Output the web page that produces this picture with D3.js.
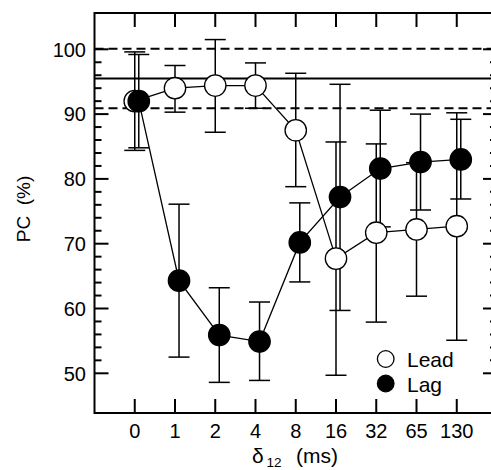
<!DOCTYPE html>
<html>
<head>
<meta charset="utf-8">
<script src="https://cdn.jsdelivr.net/npm/d3@7"></script>
<style>
  html, body { margin: 0; padding: 0; background: #fff; }
  svg { display: block; }
  text { font-family: "Liberation Sans", Arial, Helvetica, sans-serif; fill: #000; }
</style>
</head>
<body>
<svg id="chart" width="491" height="470"></svg>
<script>
// ---- data ----
const categories = ["0", "1", "2", "4", "8", "16", "32", "65", "130"];
const leadValues = [92.0, 94.0, 94.4, 94.4, 87.5, 67.7, 71.7, 72.2, 72.7];
const leadLow    = [84.4, 90.3, 87.2, 90.9, 78.8, 49.7, 57.9, 61.9, 55.1];
const leadHigh   = [99.6, 97.5, 101.5, 97.9, 96.3, 85.7, 85.4, 82.5, 90.2];
const lagValues  = [92.0, 64.3, 55.9, 54.9, 70.2, 77.2, 81.6, 82.6, 83.0];
const lagLow     = [84.8, 52.5, 48.6, 48.9, 64.1, 59.7, 72.6, 75.2, 76.9];
const lagHigh    = [99.2, 76.1, 63.2, 61.0, 76.3, 94.6, 90.6, 90.0, 89.2];
const refMean = 95.5;
const refBand = [90.9, 100.1];
const yTickLabels = [50, 60, 70, 80, 90, 100];
const seriesNames = ["Lead", "Lag"];

// ---- layout ----
const L = 94.5, R = 497, T = 13, B = 413;
const svg = d3.select("#chart");

const x = d3.scaleLinear().domain([-1, categories.length]).range([L, R]);
const y = d3.scaleLinear().domain([50, 100]).range([373.3, 49.3]);
const lagOffset = 0.1;

// frame
svg.append("rect").attr("x", L).attr("y", T).attr("width", R - L).attr("height", B - T)
  .attr("fill", "none").attr("stroke", "#000").attr("stroke-width", 2);

// ticks
const majorLen = 14, minorLen = 7;
const minorTicks = d3.range(50, 100.001, 2).filter(v => !yTickLabels.includes(v));
const gT = svg.append("g").attr("stroke", "#000").attr("stroke-width", 2);
yTickLabels.forEach(v => {
  gT.append("line").attr("x1", L).attr("x2", L + majorLen).attr("y1", y(v)).attr("y2", y(v));
  gT.append("line").attr("x1", R).attr("x2", R - majorLen).attr("y1", y(v)).attr("y2", y(v));
});
minorTicks.forEach(v => {
  gT.append("line").attr("x1", L).attr("x2", L + minorLen).attr("y1", y(v)).attr("y2", y(v));
  gT.append("line").attr("x1", R).attr("x2", R - minorLen).attr("y1", y(v)).attr("y2", y(v));
});
categories.forEach((c, i) => {
  gT.append("line").attr("x1", x(i)).attr("x2", x(i)).attr("y1", T).attr("y2", T + majorLen);
  gT.append("line").attr("x1", x(i)).attr("x2", x(i)).attr("y1", B).attr("y2", B - majorLen);
});

// tick labels
svg.append("g").selectAll("text").data(yTickLabels).join("text")
  .attr("x", 86).attr("y", d => y(d)).attr("dy", "0.36em")
  .attr("text-anchor", "end").attr("font-size", 20).text(d => d);
svg.append("g").selectAll("text").data(categories).join("text")
  .attr("x", (d, i) => x(i)).attr("y", 438)
  .attr("text-anchor", "middle").attr("font-size", 20).text(d => d);

// axis titles
svg.append("text").attr("transform", "translate(30,209) rotate(-90)")
  .attr("text-anchor", "middle").attr("font-size", 19).style("white-space", "pre")
  .text("PC  (%)");
svg.append("text").attr("x", 252).attr("y", 463).attr("font-size", 21).text("δ");
svg.append("text").attr("x", 266.5).attr("y", 466.5).attr("font-size", 13.5).text("12");
svg.append("text").attr("x", 296).attr("y", 463).attr("font-size", 21).text("(ms)");

// reference lines
svg.append("line").attr("x1", L).attr("x2", R).attr("y1", y(refMean)).attr("y2", y(refMean))
  .attr("stroke", "#000").attr("stroke-width", 2);
refBand.forEach(v => {
  svg.append("line").attr("x1", L).attr("x2", R).attr("y1", y(v)).attr("y2", y(v))
    .attr("stroke", "#000").attr("stroke-width", 2).attr("stroke-dasharray", "9,5");
});

// series
const series = [
  { name: seriesNames[0], vals: leadValues, lo: leadLow, hi: leadHigh, off: 0, fill: "#fff" },
  { name: seriesNames[1], vals: lagValues, lo: lagLow, hi: lagHigh, off: lagOffset, fill: "#000" }
];
const capW = 10.5;
series.forEach(s => {
  const g = svg.append("g").attr("stroke", "#000").attr("stroke-width", 1.5);
  s.vals.forEach((v, i) => {
    const xx = x(i + s.off);
    g.append("line").attr("x1", xx).attr("x2", xx).attr("y1", y(s.lo[i])).attr("y2", y(s.hi[i]));
    g.append("line").attr("x1", xx - capW).attr("x2", xx + capW).attr("y1", y(s.lo[i])).attr("y2", y(s.lo[i]));
    g.append("line").attr("x1", xx - capW).attr("x2", xx + capW).attr("y1", y(s.hi[i])).attr("y2", y(s.hi[i]));
  });
});
series.forEach(s => {
  const line = d3.line().x((d, i) => x(i + s.off)).y(d => y(d));
  svg.append("path").attr("d", line(s.vals)).attr("fill", "none")
    .attr("stroke", "#000").attr("stroke-width", 1.3);
});
series.forEach(s => {
  svg.append("g").selectAll("circle").data(s.vals).join("circle")
    .attr("cx", (d, i) => x(i + s.off)).attr("cy", d => y(d)).attr("r", 10.7)
    .attr("fill", s.fill).attr("stroke", "#000").attr("stroke-width", 1.3);
});

// legend
series.forEach((s, k) => {
  const cy = 359 + k * 24.5;
  svg.append("circle").attr("cx", 385.7).attr("cy", cy).attr("r", 8.3)
    .attr("fill", s.fill).attr("stroke", "#000").attr("stroke-width", 1.3);
  svg.append("text").attr("x", 407).attr("y", cy + 8).attr("font-size", 21).text(s.name);
});
</script>
</body>
</html>
